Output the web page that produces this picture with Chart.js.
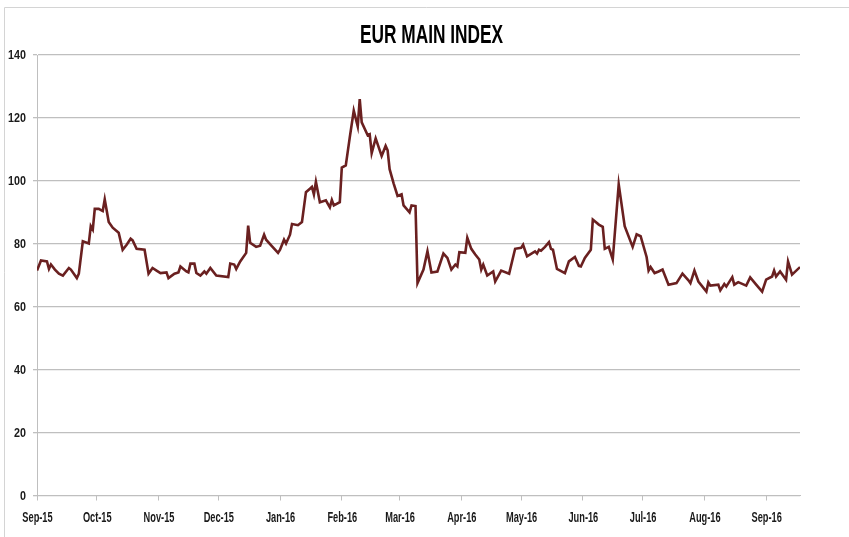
<!DOCTYPE html>
<html>
<head>
<meta charset="utf-8">
<script src="https://cdn.jsdelivr.net/npm/chart.js@4/dist/chart.umd.min.js"></script>
<style>
  html, body { margin: 0; padding: 0; background: #ffffff; }
  #wrap { width: 849px; height: 537px; position: relative; }
</style>
</head>
<body>
<div id="wrap"><canvas id="c" width="849" height="537"></canvas></div>
<script>
const chartTitle = "EUR MAIN INDEX";
const startDate = "2015-09-01";
const endDate = "2016-09-18";
const tickDates = ["2015-09-01","2015-10-01","2015-11-01","2015-12-01","2016-01-01","2016-02-01","2016-03-01","2016-04-01","2016-05-01","2016-06-01","2016-07-01","2016-08-01","2016-09-01"];
const tickLabels = ["Sep-15","Oct-15","Nov-15","Dec-15","Jan-16","Feb-16","Mar-16","Apr-16","May-16","Jun-16","Jul-16","Aug-16","Sep-16"];
const yTicks = [0, 20, 40, 60, 80, 100, 120, 140];

const dates = [
"2015-09-01","2015-09-03","2015-09-06","2015-09-07","2015-09-08","2015-09-10","2015-09-12","2015-09-14","2015-09-17","2015-09-18",
"2015-09-21","2015-09-22","2015-09-24","2015-09-27","2015-09-28","2015-09-29","2015-09-30","2015-10-02","2015-10-04","2015-10-05",
"2015-10-07","2015-10-09","2015-10-12","2015-10-14","2015-10-16","2015-10-18","2015-10-19","2015-10-21","2015-10-25","2015-10-27",
"2015-10-29","2015-10-31","2015-11-02","2015-11-05","2015-11-06","2015-11-09","2015-11-11","2015-11-12","2015-11-15","2015-11-16",
"2015-11-17","2015-11-19","2015-11-20","2015-11-22","2015-11-24","2015-11-25","2015-11-27","2015-11-30","2015-12-06","2015-12-07",
"2015-12-09","2015-12-10","2015-12-12","2015-12-15","2015-12-16","2015-12-17","2015-12-20","2015-12-22","2015-12-24","2015-12-25",
"2015-12-28","2015-12-31","2016-01-01","2016-01-03","2016-01-04","2016-01-06","2016-01-07","2016-01-10","2016-01-12","2016-01-14",
"2016-01-16","2016-01-17","2016-01-18","2016-01-19","2016-01-21","2016-01-23","2016-01-24","2016-01-26","2016-01-27","2016-01-28",
"2016-01-31","2016-02-01","2016-02-03","2016-02-05","2016-02-07","2016-02-09","2016-02-10","2016-02-11","2016-02-14","2016-02-15",
"2016-02-16","2016-02-18","2016-02-21","2016-02-23","2016-02-24","2016-02-25","2016-02-27","2016-02-29","2016-03-02","2016-03-03",
"2016-03-06","2016-03-07","2016-03-09","2016-03-10","2016-03-13","2016-03-15","2016-03-17","2016-03-20","2016-03-23","2016-03-25",
"2016-03-27","2016-03-29","2016-03-30","2016-03-31","2016-04-03","2016-04-04","2016-04-06","2016-04-08","2016-04-10","2016-04-11",
"2016-04-12","2016-04-14","2016-04-17","2016-04-18","2016-04-21","2016-04-25","2016-04-28","2016-05-01","2016-05-02","2016-05-04",
"2016-05-08","2016-05-09","2016-05-10","2016-05-11","2016-05-13","2016-05-15","2016-05-16","2016-05-17","2016-05-19","2016-05-23",
"2016-05-25","2016-05-28","2016-05-30","2016-05-31","2016-06-02","2016-06-05","2016-06-06","2016-06-09","2016-06-11","2016-06-12",
"2016-06-14","2016-06-16","2016-06-19","2016-06-22","2016-06-26","2016-06-28","2016-06-30","2016-07-03","2016-07-04","2016-07-05",
"2016-07-07","2016-07-09","2016-07-11","2016-07-14","2016-07-18","2016-07-21","2016-07-24","2016-07-25","2016-07-27","2016-07-29",
"2016-08-02","2016-08-03","2016-08-04","2016-08-08","2016-08-09","2016-08-11","2016-08-12","2016-08-15","2016-08-16","2016-08-18",
"2016-08-22","2016-08-24","2016-08-27","2016-08-30","2016-09-01","2016-09-04","2016-09-05","2016-09-06","2016-09-08","2016-09-11",
"2016-09-12","2016-09-14","2016-09-18"
];

const values = [
71.5,74.7,74.4,72.0,73.4,71.8,70.5,69.9,72.3,71.8,
69.1,70.5,80.8,80.1,85.6,84.5,91.1,91.1,90.4,94.1,
86.9,85.1,83.5,78.1,79.7,81.6,81.1,78.4,78.1,70.5,
72.3,71.5,70.7,70.9,69.1,70.5,70.9,72.8,71.2,70.9,
73.7,73.7,70.7,69.9,71.2,70.5,72.3,69.9,69.4,73.7,
73.4,72.0,74.4,77.1,85.8,80.3,79.0,79.4,82.9,81.3,
79.2,77.1,78.1,81.3,80.1,82.9,86.3,85.9,86.9,96.4,
97.5,98.1,95.7,99.7,93.2,93.6,93.8,91.6,93.9,92.2,
93.2,104.2,104.9,113.8,122.3,117.3,126.0,118.6,114.5,114.8,
108.8,113.5,107.9,111.1,109.7,103.7,99.2,95.2,95.7,92.2,
90.0,92.2,92.0,67.5,71.8,77.6,70.9,71.2,76.9,75.5,
71.8,73.4,72.8,77.3,77.1,81.9,78.4,76.6,75.0,71.8,
73.4,69.9,71.2,68.0,71.5,70.5,78.4,78.7,79.7,76.0,
77.6,76.9,78.1,77.8,79.0,80.5,78.4,78.1,72.0,70.7,
74.4,75.8,73.0,72.8,75.5,78.1,87.7,86.1,85.4,78.4,
79.0,75.0,98.9,85.6,79.0,83.0,82.4,75.8,71.5,72.6,
70.7,71.2,71.8,67.0,67.5,70.5,68.4,67.5,71.5,68.0,
64.8,67.7,66.7,67.0,65.2,67.2,66.4,69.4,67.0,67.8,
66.7,69.3,67.0,64.8,68.6,69.6,71.5,69.6,71.2,68.6,
74.4,70.2,72.6
];

const DAY = 86400000;
function dayOffset(s) {
  const p = s.split("-").map(Number);
  const q = startDate.split("-").map(Number);
  return Math.round((Date.UTC(p[0], p[1]-1, p[2]) - Date.UTC(q[0], q[1]-1, q[2])) / DAY);
}
const tickPos = tickDates.map(dayOffset);
const points = dates.map((d, i) => ({ x: dayOffset(d), y: values[i] }));

const FONT = "'Liberation Sans', Arial, sans-serif";

// draws title and axis labels as canvas text, condensed horizontally, positioned via the chart's scales
const textPlugin = {
  id: 'condensedText',
  beforeDraw(chart) {
    const ctx = chart.ctx;
    ctx.save();
    ctx.strokeStyle = '#d4d4d4';
    ctx.lineWidth = 1;
    ctx.beginPath();
    ctx.moveTo(4.5, 537);
    ctx.lineTo(4.5, 7.5);
    ctx.lineTo(849, 7.5);
    ctx.stroke();
    ctx.restore();
  },
  afterDraw(chart) {
    const ctx = chart.ctx;
    const xs = chart.scales.x, ys = chart.scales.y;
    ctx.save();
    ctx.fillStyle = '#000000';
    // title
    ctx.font = "bold 25px " + FONT;
    ctx.textBaseline = 'alphabetic';
    ctx.textAlign = 'center';
    const tw = ctx.measureText(chartTitle).width;
    const tsx = 143 / tw;
    ctx.save();
    ctx.translate(431.5, 43);
    ctx.scale(tsx, 1);
    ctx.fillText(chartTitle, 0, 0);
    ctx.restore();
    // x labels
    ctx.font = "bold 14px " + FONT;
    ctx.fillStyle = '#1a1a1a';
    tickPos.forEach((v, i) => {
      const px = xs.getPixelForValue(v);
      ctx.save();
      ctx.translate(px + 0.5, 522);
      ctx.scale(0.66, 1);
      ctx.textAlign = 'center';
      ctx.fillText(tickLabels[i], 0, 0);
      ctx.restore();
    });
    // y labels
    ctx.font = "bold 12.5px " + FONT;
    ctx.textBaseline = 'middle';
    yTicks.forEach((v) => {
      const py = ys.getPixelForValue(v);
      ctx.save();
      ctx.translate(26, py + 1);
      ctx.scale(0.86, 1);
      ctx.textAlign = 'right';
      ctx.fillText(String(v), 0, 0);
      ctx.restore();
    });
    ctx.restore();
  }
};

new Chart(document.getElementById('c'), {
  type: 'line',
  data: {
    datasets: [{
      data: points,
      borderColor: '#6a2020',
      borderWidth: 2.6,
      pointRadius: 0,
      tension: 0,
      fill: false
    }]
  },
  plugins: [textPlugin],
  options: {
    responsive: false,
    animation: false,
    devicePixelRatio: 1,
    layout: { padding: { left: 0, right: 49, top: 55, bottom: 0 } },
    plugins: {
      legend: { display: false },
      tooltip: { enabled: false },
      title: { display: false }
    },
    scales: {
      x: {
        type: 'linear',
        min: 0,
        max: dayOffset(endDate),
        afterBuildTicks: (scale) => { scale.ticks = tickPos.map(v => ({ value: v })); },
        afterFit: (scale) => { scale.height = 41.5; },
        ticks: { display: false, autoSkip: false, maxRotation: 0 },
        grid: { display: true, drawOnChartArea: false, drawTicks: true, tickLength: 5, color: '#bfbfbf' },
        border: { display: true, color: '#bfbfbf', width: 1 }
      },
      y: {
        min: 0,
        max: 140,
        afterBuildTicks: (scale) => { scale.ticks = yTicks.map(v => ({ value: v })); },
        afterFit: (scale) => { scale.width = 37; },
        ticks: { display: false },
        grid: { color: '#bfbfbf', lineWidth: 1.3, drawTicks: true, tickLength: 4 },
        border: { display: true, color: '#bfbfbf', width: 1 }
      }
    }
  }
});
</script>
</body>
</html>
